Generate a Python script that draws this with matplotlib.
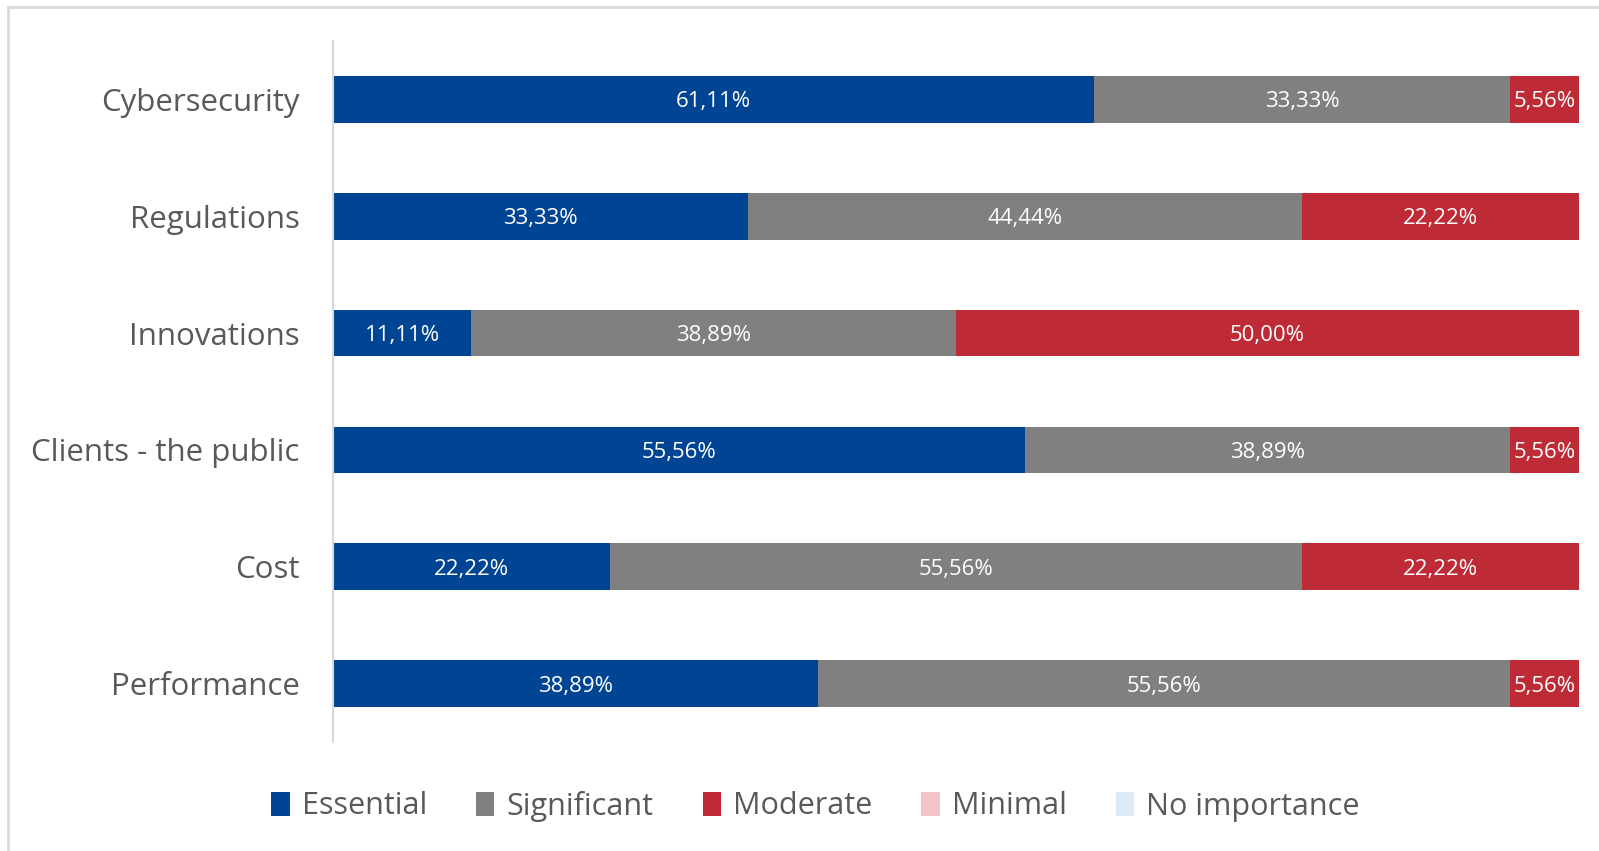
import matplotlib.pyplot as plt
from matplotlib.patches import Rectangle

categories = ["Cybersecurity", "Regulations", "Innovations", "Clients - the public", "Cost", "Performance"]
series = ["Essential", "Significant", "Moderate", "Minimal", "No importance"]
essential = [61.11, 33.33, 11.11, 55.56, 22.22, 38.89]
significant = [33.33, 44.44, 38.89, 38.89, 55.56, 55.56]
moderate = [5.56, 22.22, 50.00, 5.56, 22.22, 5.56]
minimal = [0, 0, 0, 0, 0, 0]
no_importance = [0, 0, 0, 0, 0, 0]
colors = ["#004494", "#808080", "#BE2A35", "#F2C4C7", "#DDEBF8"]

plt.rcParams['font.family'] = ['Open Sans', 'DejaVu Sans']

fig = plt.figure(figsize=(15.99, 8.51), dpi=100)
ax = fig.add_axes([333 / 1599, 1 - 742 / 851, (1579 - 333) / 1599, (742 - 41) / 851])

ypos = list(range(len(categories)))
left = [0] * len(categories)
for name, vals, col in zip(series, [essential, significant, moderate, minimal, no_importance], colors):
    bars = ax.barh(ypos, vals, left=left, height=0.4, color=col, label=name)
    for b, v in zip(bars, vals):
        if v > 0:
            ax.text(b.get_x() + b.get_width() / 2, b.get_y() + b.get_height() / 2,
                    f"{v:.2f}%".replace(".", ","), ha='center', va='center_baseline',
                    color='white', fontsize=16)
    left = [l + v for l, v in zip(left, vals)]

ax.set_xlim(0, 100)
ax.set_ylim(5.5, -0.5)
ax.set_yticks(ypos)
ax.set_yticklabels(categories, fontsize=22.5, color='#595959')
ax.set_xticks([])
ax.tick_params(axis='y', length=0, pad=24)
for s in ['top', 'right', 'bottom']:
    ax.spines[s].set_visible(False)
ax.spines['left'].set_color('#d9d9d9')
ax.spines['left'].set_linewidth(1.5)

fig.legend(loc='center', bbox_to_anchor=(0.51, 1 - 806 / 851), ncol=5, frameon=False,
           fontsize=22, handlelength=0.6, handleheight=0.8, handletextpad=0.4,
           columnspacing=1.6, labelcolor='#595959')

fig.patches.append(Rectangle((8 / 1599, -0.01), 1.1, 1 - 7 / 851 + 0.01, transform=fig.transFigure,
                             fill=False, edgecolor='#d9d9d9', linewidth=2))

fig.savefig("out.png", dpi=100)
